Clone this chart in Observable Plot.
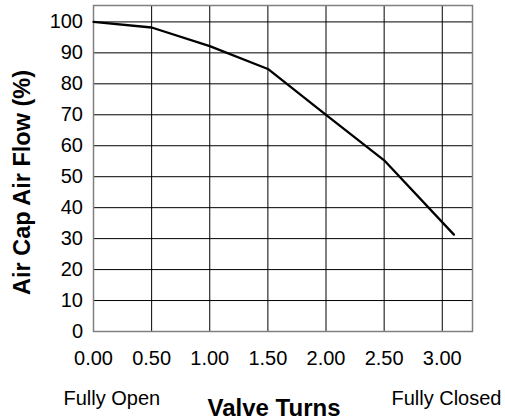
<!DOCTYPE html>
<html>
<head>
<meta charset="utf-8">
<script src="https://cdn.jsdelivr.net/npm/d3@7"></script>
<script src="https://cdn.jsdelivr.net/npm/@observablehq/plot@0.6"></script>
<style>
  html, body { margin: 0; padding: 0; background: #fff; }
  #chart svg { display: block; }
</style>
</head>
<body>
<div id="chart"></div>
<script>
const turns = [0, 0.5, 1.0, 1.5, 2.0, 2.5, 3.1];
const flow = [100, 98.2, 92.2, 84.8, 70, 55.3, 31.3];
const xTicks = [0, 0.5, 1.0, 1.5, 2.0, 2.5, 3.0];
const yTicks = [0, 10, 20, 30, 40, 50, 60, 70, 80, 90, 100];
const xLabel = "Valve Turns";
const yLabel = "Air Cap Air Flow (%)";
const leftNote = "Fully Open";
const rightNote = "Fully Closed";

const data = turns.map((t, i) => ({turns: t, flow: flow[i]}));
const font = "'Liberation Sans', Arial, Helvetica, sans-serif";

const chart = Plot.plot({
  width: 505,
  height: 420,
  marginLeft: 93,
  marginRight: 33,
  marginTop: 5,
  marginBottom: 89,
  style: {fontFamily: font, fontSize: "20px", color: "#000", background: "#fff"},
  x: {domain: [0, 3.26], ticks: xTicks, tickFormat: d3.format(".2f"), label: null},
  y: {domain: [0, 105.3], ticks: yTicks, label: null},
  marks: [
    Plot.gridX(xTicks.filter(d => d > 0), {stroke: "#000", strokeOpacity: 1, strokeWidth: 1}),
    Plot.gridY(yTicks.filter(d => d > 0), {stroke: "#000", strokeOpacity: 1, strokeWidth: 1}),
    Plot.frame({stroke: "#808080", strokeWidth: 1.5}),
    Plot.axisX(xTicks, {tickSize: 0, tickPadding: 19, tickFormat: d3.format(".2f"), fontSize: 20, label: null}),
    Plot.axisY(yTicks, {tickSize: 0, tickPadding: 10.5, fontSize: 20, label: null}),
    Plot.line(data, {x: "turns", y: "flow", stroke: "#000", strokeWidth: 2.3}),
    Plot.text([leftNote], {frameAnchor: "bottom-left", text: d => d, textAnchor: "start", lineAnchor: "bottom", dx: -30, dy: 73, fontSize: 20}),
    Plot.text([rightNote], {frameAnchor: "bottom-right", text: d => d, textAnchor: "end", lineAnchor: "bottom", dx: 29, dy: 73, fontSize: 20}),
    Plot.text([xLabel], {frameAnchor: "bottom", text: d => d, textAnchor: "middle", lineAnchor: "bottom", dx: -9, dy: 84.5, fontSize: 24, fontWeight: "bold"}),
    Plot.text([yLabel], {frameAnchor: "left", text: d => d, textAnchor: "middle", lineAnchor: "middle", rotate: -90, dx: -71, dy: 14, fontSize: 23.5, fontWeight: "bold"})
  ]
});
document.getElementById("chart").appendChild(chart);
</script>
</body>
</html>
